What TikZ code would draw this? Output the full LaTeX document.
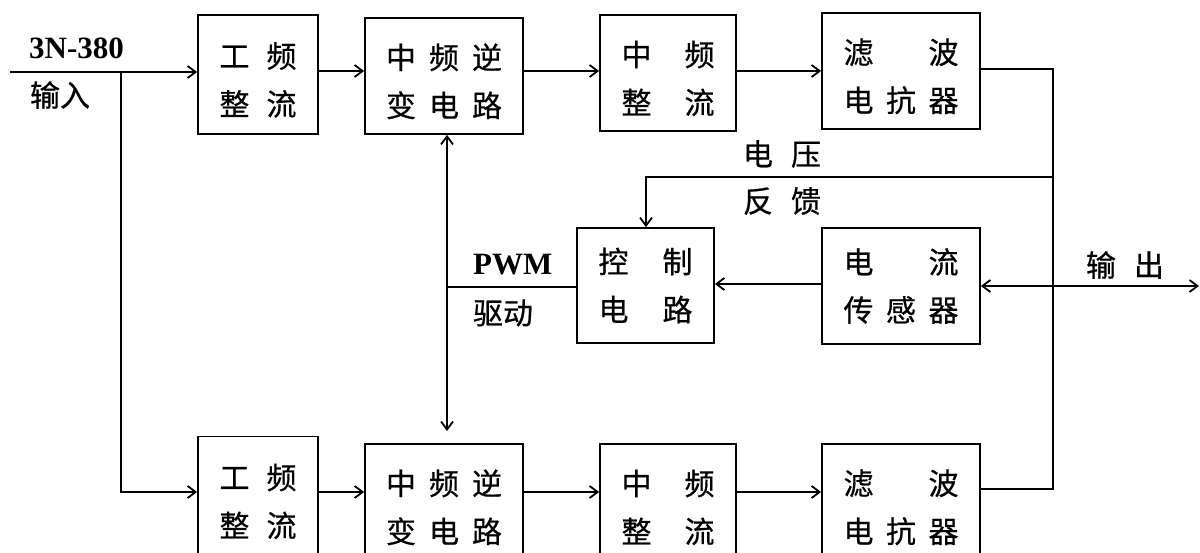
\documentclass[tikz,border=0pt]{standalone}
\usepackage{fontspec}
\setmainfont{Liberation Serif}
\newfontfamily\cjk[FakeBold=0.6]{Noto Sans CJK SC}
\usetikzlibrary{arrows.meta}
\newcommand\rtwo[3]{\makebox[#1pt][s]{#2\hfill#3}}
\newcommand\rthree[4]{\makebox[#1pt][s]{#2\hfill#3\hfill#4}}
\newcommand\dn{\rule{0pt}{36pt}}
\begin{document}
\begin{tikzpicture}[x=1pt,y=-1pt,
  blk/.style={draw, line width=1.8pt, inner sep=0pt, align=center,
    font=\cjk\fontsize{30}{48}\selectfont},
  conn/.style={line width=2.2pt},
  bus/.style={line width=2.7pt},
  tip/.tip={Straight Barb[length=8pt,width=12pt,line width=1.8pt]},
  lbl/.style={inner sep=0pt, font=\cjk\fontsize{30}{36}\selectfont},
  en/.style={inner sep=0pt, anchor=base west, font=\bfseries\fontsize{31}{36}\selectfont}]
\useasboundingbox (0,0) rectangle (1200,553);
\clip (0,0) rectangle (1200,553);
% upper row
\node[blk, minimum width=120pt, minimum height=119pt] (g1) at (258,74.5) {\dn\rtwo{77}{工}{频}\\\rtwo{77}{整}{流}};
\node[blk, minimum width=158pt, minimum height=116pt] (n1) at (444,76) {\dn\rthree{116}{中}{频}{逆}\\\rthree{116}{变}{电}{路}};
\node[blk, minimum width=136pt, minimum height=116pt] (z1) at (668,73) {\dn\rtwo{93}{中}{频}\\\rtwo{93}{整}{流}};
\node[blk, minimum width=158pt, minimum height=116pt] (f1) at (901,71) {\dn\rtwo{115}{滤}{波}\\\rthree{115}{电}{抗}{器}};
% middle row
\node[blk, minimum width=137pt, minimum height=115pt] (ctl) at (645.5,285.5) {\rtwo{94}{控}{制}\\\rtwo{94}{电}{路}};
\node[blk, minimum width=158pt, minimum height=116pt] (sen) at (901,286) {\rtwo{115}{电}{流}\\\rthree{115}{传}{感}{器}};
% lower row
\node[blk, minimum width=120pt, minimum height=119pt] (g2) at (258,496) {\dn\rtwo{77}{工}{频}\\\rtwo{77}{整}{流}};
\node[blk, minimum width=158pt, minimum height=116pt] (n2) at (444,502) {\dn\rthree{116}{中}{频}{逆}\\\rthree{116}{变}{电}{路}};
\node[blk, minimum width=136pt, minimum height=116pt] (z2) at (668,502) {\dn\rtwo{93}{中}{频}\\\rtwo{93}{整}{流}};
\node[blk, minimum width=158pt, minimum height=116pt] (f2) at (901,502) {\dn\rtwo{115}{滤}{波}\\\rthree{115}{电}{抗}{器}};
% labels
\node[en] (t380) at (29,59) {3N-380};
\node[lbl] (tin) at (60,95) {输入};
\node[lbl] (tv1) at (782,154) {\rtwo{78}{电}{压}};
\node[lbl] (tv2) at (782,201) {\rtwo{78}{反}{馈}};
\node[en] (tpwm) at (473,275) {PWM};
\node[lbl] (tdrv) at (503,313) {驱动};
\node[lbl] (tout) at (1125,265) {\rtwo{78}{输}{出}};
% coordinates
\coordinate (inL) at (10,72);
\coordinate (br) at (121,72);
\coordinate (br2) at (121,492);
\coordinate (r1) at (0,71);
\coordinate (r2) at (0,492);
\coordinate (busT) at (1053,69);
\coordinate (busB) at (1053,489);
\coordinate (fbR) at (1053,177);
\coordinate (fbL) at (646,177);
\coordinate (out) at (1199,286);
\coordinate (sc) at (0,284);
\coordinate (pwmL) at (447,287);
\coordinate (vB) at (447,431);
% connectors
\draw[conn,-tip] (inL) -- (inL -| g1.west);
\draw[conn,-tip] (br) -- (br2) -- (br2 -| g2.west);
\draw[conn,-tip] (g1.east |- r1) -- (n1.west |- r1);
\draw[conn,-tip] (n1.east |- r1) -- (z1.west |- r1);
\draw[conn,-tip] (z1.east |- r1) -- (f1.west |- r1);
\draw[conn,-tip] (g2.east |- r2) -- (n2.west |- r2);
\draw[conn,-tip] (n2.east |- r2) -- (z2.west |- r2);
\draw[conn,-tip] (z2.east |- r2) -- (f2.west |- r2);
\draw[bus] (f1.east |- busT) -- (busT) -- (busB) -- (f2.east |- busB);
\draw[bus,-tip] (fbR) -- (fbL) -- (fbL |- ctl.north);
\draw[conn,tip-tip] (sen.east |- out) -- (out);
\draw[conn,-tip] (sen.west |- sc) -- (ctl.east |- sc);
\draw[conn] (ctl.west |- pwmL) -- (pwmL);
\draw[conn,tip-tip] (vB |- n1.south) -- (vB);
\end{tikzpicture}
\end{document}
